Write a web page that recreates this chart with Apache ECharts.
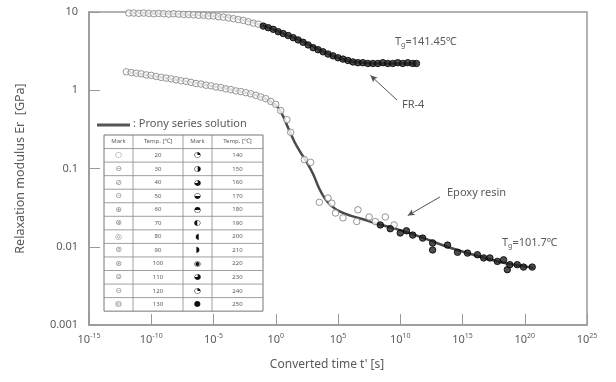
<!DOCTYPE html>
<html><head><meta charset="utf-8">
<script src="https://cdn.jsdelivr.net/npm/echarts@6/dist/echarts.min.js"></script>
<style>html,body{margin:0;padding:0;background:#fff}#c{width:616px;height:382px}</style>
</head><body><div id="c"></div>
<script>
// ---- tick labels ----
const xTickExponents = [-15, -10, -5, 0, 5, 10, 15, 20, 25];
const yTickLabels = ['0.001', '0.01', '0.1', '1', '10'];

// ---- FR-4 measured points: log10(t' [s]) and Er [GPa] ----
const fr4OpenLogT = [-11.8,-11.4,-11.0,-10.6,-10.2,-9.8,-9.4,-9.0,-8.6,-8.2,-7.8,-7.4,-7.0,-6.6,-6.2,-5.8,-5.4,-5.0,-4.6,-4.2,-3.8,-3.4,-3.0,-2.6,-2.2,-1.8,-1.4];
const fr4OpenE    = [9.7,9.7,9.6,9.7,9.6,9.5,9.6,9.5,9.4,9.5,9.4,9.3,9.3,9.2,9.1,9.1,8.9,8.9,8.7,8.6,8.4,8.2,8.0,7.8,7.5,7.2,7.0];
const fr4FillLogT = [-1.0,-0.6,-0.2,0.2,0.6,1.0,1.4,1.8,2.2,2.6,3.0,3.4,3.8,4.2,4.6,5.0,5.4,5.8,6.2,6.6,7.0,7.4,7.8,8.2,8.6,9.0,9.4,9.8,10.2,10.6,11.0,11.3];
const fr4FillE    = [6.6,6.3,6.0,5.6,5.3,5.0,4.7,4.4,4.1,3.8,3.5,3.3,3.1,2.9,2.75,2.6,2.5,2.4,2.3,2.25,2.25,2.2,2.2,2.2,2.25,2.2,2.2,2.25,2.2,2.25,2.2,2.2];
// Prony series solution (FR-4)
const fr4FitLogT = [-11.8,-10,-8,-6,-4,-2,0,1,2,3,4,5,6,7,8,9,10,11.3];
const fr4FitE    = [9.7,9.6,9.4,9.1,8.6,7.5,5.8,5.0,4.3,3.6,3.0,2.6,2.35,2.25,2.2,2.2,2.2,2.2];

// ---- Epoxy resin measured points ----
const epoOpenLogT = [-12.0,-11.6,-11.2,-10.8,-10.4,-10.0,-9.6,-9.2,-8.8,-8.4,-8.0,-7.6,-7.2,-6.8,-6.4,-6.0,-5.6,-5.2,-4.8,-4.4,-4.0,-3.6,-3.2,-2.8,-2.4,-2.0,-1.6,-1.2,-0.8,-0.4,0.0,0.4,0.9,1.2,2.3,2.8,3.5,4.2,4.5,4.8,5.4,6.5,6.6,7.5,8.0,8.8,9.5];
const epoOpenE    = [1.72,1.68,1.65,1.62,1.57,1.55,1.50,1.46,1.43,1.40,1.36,1.32,1.30,1.26,1.22,1.20,1.16,1.14,1.10,1.08,1.04,1.02,0.98,0.96,0.93,0.90,0.86,0.82,0.78,0.72,0.66,0.55,0.42,0.29,0.13,0.12,0.037,0.042,0.036,0.027,0.0234,0.021,0.0296,0.024,0.021,0.024,0.019];
const epoFillLogT = [8.4,9.2,10.0,10.5,11.0,11.8,12.6,12.6,13.8,14.6,15.4,16.2,16.7,17.2,17.8,18.3,18.6,18.8,19.4,19.9,20.6];
const epoFillE    = [0.019,0.017,0.015,0.016,0.0141,0.0129,0.0112,0.0091,0.0105,0.0085,0.0083,0.0079,0.0072,0.0072,0.0065,0.0068,0.0051,0.0059,0.0059,0.0055,0.0055];
// Prony series solution (Epoxy)
const epoFitLogT = [-12,-10,-8,-6,-4,-2,-1,0,0.5,1,1.5,2,2.5,3,3.5,4,4.5,5,6,7,8,10,12,14,16,18,20,20.7];
const epoFitE    = [1.72,1.53,1.36,1.20,1.05,0.90,0.80,0.65,0.50,0.33,0.22,0.16,0.12,0.085,0.055,0.040,0.033,0.029,0.025,0.0225,0.020,0.0163,0.0127,0.0097,0.0078,0.0064,0.0056,0.0054];

// ---- inset table ----
const tableHeader = ['Mark', 'Temp. [\u2103]', 'Mark', 'Temp. [\u2103]'];
const tempsLeft  = [20, 30, 40, 50, 60, 70, 80, 90, 100, 110, 120, 130];
const tempsRight = [140, 150, 160, 170, 180, 190, 200, 210, 220, 230, 240, 250];
const marksLeft  = ['\u25CB','\u2296','\u2298','\u2299','\u2295','\u2297','\u25CE','\u229A','\u229B','\u229C','\u229D','\u25CD'];
const marksRight = ['\u25D4','\u25D1','\u25D5','\u25D2','\u25D3','\u25D0','\u25D6','\u25D7','\u25C9','\u25D5','\u25D4','\u25CF'];

const pairs = (lt, e) => lt.map((v, i) => [Math.pow(10, v), e[i]]);

const FONT = 'Noto Sans';
const TXT = '#5a5a5a';

// table graphics
const tbl = [];
const tx = [104, 133, 183, 212, 263];
const ty0 = 135, rowH = 13.55, nRows = 13;
tbl.push({type:'rect', shape:{x:tx[0], y:ty0, width:tx[4]-tx[0], height:rowH*nRows}, style:{fill:'#fff', stroke:'#777', lineWidth:1}, z:10});
for (let r = 1; r < nRows; r++) {
  tbl.push({type:'line', shape:{x1:tx[0], y1:ty0+r*rowH, x2:tx[4], y2:ty0+r*rowH}, style:{stroke:'#888', lineWidth:0.8}, z:10});
}
for (let c = 1; c < 4; c++) {
  tbl.push({type:'line', shape:{x1:tx[c], y1:ty0, x2:tx[c], y2:ty0+rowH*nRows}, style:{stroke:'#888', lineWidth:0.8}, z:10});
}
const cellText = (c, r, text, opt) => Object.assign({
  type:'text', x:(tx[c]+tx[c+1])/2, y:ty0 + r*rowH + rowH/2, z:11,
  style:{text:text, fill:TXT, font:'6px ' + FONT, align:'center', verticalAlign:'middle'}
}, opt || {});
tableHeader.forEach((h, c) => tbl.push(cellText(c, 0, h)));
tempsLeft.forEach((t, i) => {
  tbl.push(cellText(0, i+1, marksLeft[i], {style:{text:marksLeft[i], fill:'#888', font:'8px DejaVu Sans', align:'center', verticalAlign:'middle'}}));
  tbl.push(cellText(1, i+1, String(t)));
});
tempsRight.forEach((t, i) => {
  tbl.push(cellText(2, i+1, marksRight[i], {style:{text:marksRight[i], fill:'#111', font:'8px DejaVu Sans', align:'center', verticalAlign:'middle'}}));
  tbl.push(cellText(3, i+1, String(t)));
});

const tgRich = {
  a:{fontSize:11, fontFamily:FONT, fill:TXT},
  s:{fontSize:7, fontFamily:FONT, fill:TXT, padding:[6,0,0,0]}
};

const chart = echarts.init(document.getElementById('c'), null, {renderer:'canvas'});
chart.setOption({
  animation:false,
  backgroundColor:'#fff',
  grid:{left:89, right:29, top:12, bottom:57, show:true, borderColor:'#999', borderWidth:1.5, backgroundColor:'transparent'},
  xAxis:{
    type:'log', logBase:10, min:1e-15, max:1e25, interval:5,
    name:"Converted time t' [s]", nameLocation:'middle', nameGap:34,
    nameTextStyle:{color:TXT, fontSize:12, fontFamily:FONT, padding:[0,22,0,0]},
    axisLine:{lineStyle:{color:'#999', width:1.5}},
    axisTick:{inside:true, length:11, lineStyle:{color:'#999', width:1}},
    minorTick:{show:false}, splitLine:{show:false},
    axisLabel:{
      margin:7, color:TXT,
      formatter:(v) => { const e = Math.round(Math.log10(v)); return '{b|10}{s|' + e + '}'; },
      rich:{ b:{fontSize:11, fontFamily:FONT, color:TXT}, s:{fontSize:7, fontFamily:FONT, color:TXT, padding:[0,0,8,0]} }
    }
  },
  yAxis:{
    type:'log', logBase:10, min:0.001, max:10,
    name:'Relaxation modulus Er  [GPa]', nameLocation:'middle', nameGap:62, nameRotate:90,
    nameTextStyle:{color:TXT, fontSize:12.5, fontFamily:FONT},
    axisLine:{lineStyle:{color:'#999', width:1.5}},
    axisTick:{inside:true, length:11, lineStyle:{color:'#999', width:1}},
    splitLine:{show:false},
    axisLabel:{
      margin:11, color:TXT, fontSize:11, fontFamily:FONT,
      formatter:(v) => yTickLabels[Math.round(Math.log10(v)) + 3]
    }
  },
  series:[
    {name:'fit-epoxy', type:'line', smooth:0.4, showSymbol:false, data:pairs(epoFitLogT, epoFitE), lineStyle:{color:'#4a4a4a', width:2.5}, z:2,
     markLine:{silent:true, symbol:['none','arrow'], symbolSize:[5,7], lineStyle:{color:'#555', width:1, type:'solid'}, label:{show:false},
       data:[
         [{coord:[Math.pow(10,13.2), 0.0434]}, {coord:[Math.pow(10,10.6), 0.0250]}],
         [{coord:[Math.pow(10,9.74), 0.75]}, {coord:[Math.pow(10,7.6), 1.55]}]
       ]}},
    {name:'fit-fr4', type:'line', smooth:0.4, showSymbol:false, data:pairs(fr4FitLogT, fr4FitE), lineStyle:{color:'#4a4a4a', width:2.5}, z:2},
    {name:'fr4-open', type:'scatter', symbol:'circle', symbolSize:6.5, data:pairs(fr4OpenLogT, fr4OpenE), itemStyle:{color:'#fff', borderColor:'#7a7a7a', borderWidth:1}, z:3},
    {name:'fr4-fill', type:'scatter', symbol:'circle', symbolSize:6.5, data:pairs(fr4FillLogT, fr4FillE), itemStyle:{color:'#222', borderColor:'#000', borderWidth:1}, z:3},
    {name:'epo-open', type:'scatter', symbol:'circle', symbolSize:6.5, data:pairs(epoOpenLogT, epoOpenE), itemStyle:{color:'#fff', borderColor:'#7a7a7a', borderWidth:1}, z:3},
    {name:'epo-fill', type:'scatter', symbol:'circle', symbolSize:6.5, data:pairs(epoFillLogT, epoFillE), itemStyle:{color:'#222', borderColor:'#000', borderWidth:1}, z:3}
  ],
  graphic:[
    {type:'text', left:395, top:36, style:{text:'{a|T}{s|g}{a|=141.45\u2103}', rich:tgRich}},
    {type:'text', left:402, top:99, style:{text:'FR-4', fill:TXT, font:'11px ' + FONT}},
    {type:'text', left:447, top:187, style:{text:'Epoxy resin', fill:TXT, font:'11px ' + FONT}},
    {type:'text', left:502, top:237, style:{text:'{a|T}{s|g}{a|=101.7\u2103}', rich:tgRich}},
    {type:'line', shape:{x1:97, y1:125, x2:130, y2:125}, style:{stroke:'#555', lineWidth:3}, z:10},
    {type:'text', left:133, top:118, style:{text:': Prony series solution', fill:TXT, font:'11px ' + FONT}, z:10},
    {type:'group', children:tbl}
  ]
});
</script></body></html>
